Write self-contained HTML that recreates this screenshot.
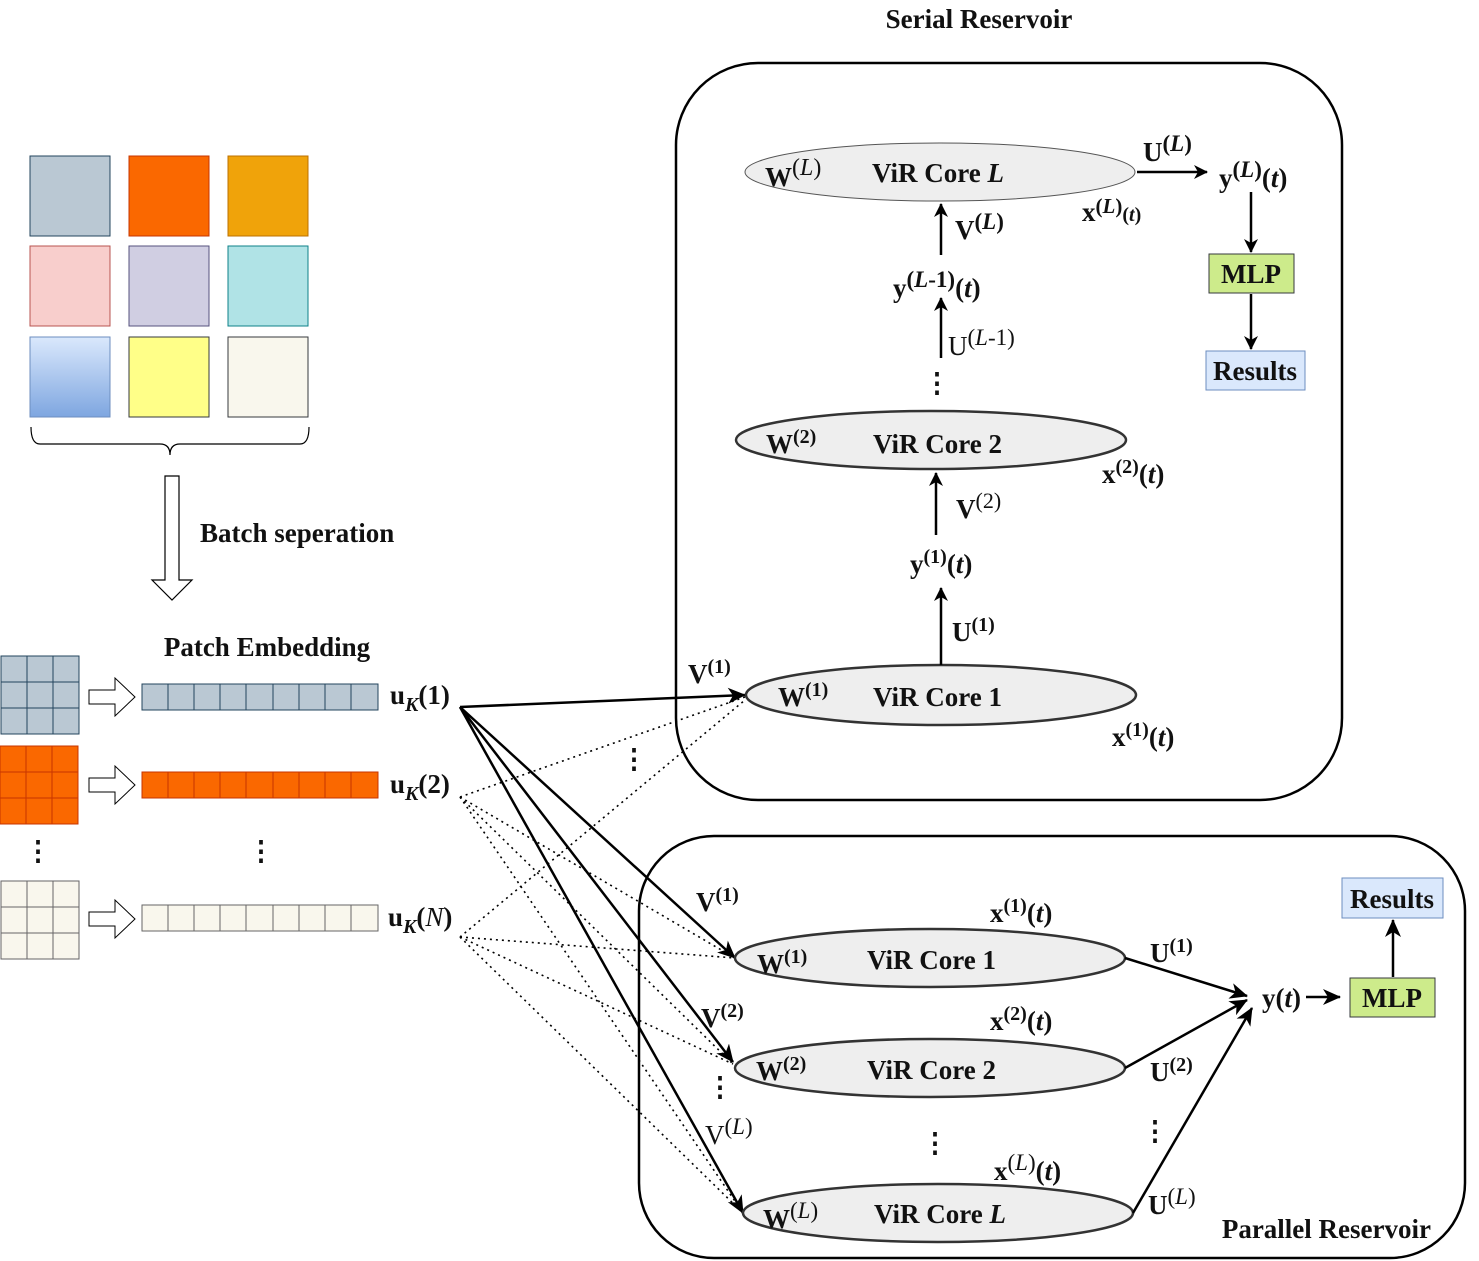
<!DOCTYPE html>
<html><head><meta charset="utf-8"><style>
html,body{margin:0;padding:0;background:#fff;}
svg{display:block;}
text{font-family:"Liberation Serif",serif;font-weight:bold;font-size:27px;fill:#111;}
.s{font-size:20px;}
.n{font-weight:normal;}
</style></head><body>
<svg width="1479" height="1261" viewBox="0 0 1479 1261" xmlns="http://www.w3.org/2000/svg">
<defs>
<marker id="a" markerWidth="14" markerHeight="14" refX="13" refY="7" orient="auto" markerUnits="userSpaceOnUse"><path d="M0,0 L14,7 L0,14 L4,7 Z" fill="#000"/></marker>
<marker id="b" markerWidth="18" markerHeight="16" refX="17" refY="8" orient="auto" markerUnits="userSpaceOnUse"><path d="M0,0 L18,8 L0,16 L5,8 Z" fill="#000"/></marker>
<linearGradient id="g" x1="0" y1="0" x2="0" y2="1"><stop offset="0" stop-color="#dae8fc"/><stop offset="1" stop-color="#7ea6e0"/></linearGradient>
</defs>

<rect x="30" y="156" width="80" height="80" fill="#bac8d3" stroke="#23445d"/>
<rect x="129" y="156" width="80" height="80" fill="#fa6800" stroke="#c73500"/>
<rect x="228" y="156" width="80" height="80" fill="#f0a30a" stroke="#bd7000"/>
<rect x="30" y="246" width="80" height="80" fill="#f8cecc" stroke="#b85450"/>
<rect x="129" y="246" width="80" height="80" fill="#d0cee2" stroke="#56517e"/>
<rect x="228" y="246" width="80" height="80" fill="#b0e3e6" stroke="#0e8088"/>
<rect x="30" y="337" width="80" height="80" fill="url(#g)" stroke="#6c8ebf"/>
<rect x="129" y="337" width="80" height="80" fill="#ffff88" stroke="#36393d"/>
<rect x="228" y="337" width="80" height="80" fill="#f9f7ed" stroke="#36393d"/>
<path d="M31,427 Q31,444 40,444 L160,444 Q170,444 170,455 Q170,444 180,444 L300,444 Q309,444 309,427" fill="none" stroke="#000" stroke-width="1.2"/>
<path d="M165,476 L179,476 L179,580 L192,580 L172,600 L152,580 L165,580 Z" fill="#fff" stroke="#000" stroke-width="1.2"/>
<text x="200" y="542">Batch seperation</text>
<text x="267" y="656" text-anchor="middle">Patch Embedding</text>

<g stroke="#23445d" stroke-width="1">
<rect x="1" y="656" width="78" height="78" fill="#bac8d3"/>
<path d="M27,656V734M53,656V734M1,682H79M1,708H79" fill="none"/>
</g>
<g stroke="#c73500" stroke-width="1">
<rect x="0" y="746" width="78" height="78" fill="#fa6800"/>
<path d="M26,746V824M52,746V824M0,772H78M0,798H78" fill="none"/>
</g>
<g stroke="#666" stroke-width="1">
<rect x="1" y="881" width="78" height="78" fill="#f9f7ed"/>
<path d="M27,881V959M53,881V959M1,907H79M1,933H79" fill="none"/>
</g>
<text x="38" y="860" text-anchor="middle">⋮</text>
<text x="261" y="860" text-anchor="middle">⋮</text>
<g fill="#fff" stroke="#000" stroke-width="1">
<path d="M89,690 L115,690 L115,678 L135,697 L115,716 L115,704 L89,704 Z"/>
<path d="M89,778 L115,778 L115,766 L135,785 L115,804 L115,792 L89,792 Z"/>
<path d="M89,912 L115,912 L115,900 L135,919 L115,938 L115,926 L89,926 Z"/>
</g>
<g stroke="#23445d"><rect x="142" y="684" width="236" height="26" fill="#bac8d3"/>
<path d="M168,684v26M194,684v26M220,684v26M246,684v26M273,684v26M299,684v26M325,684v26M351,684v26" fill="none"/></g>
<g stroke="#c73500"><rect x="142" y="772" width="236" height="26" fill="#fa6800"/>
<path d="M168,772v26M194,772v26M220,772v26M246,772v26M273,772v26M299,772v26M325,772v26M351,772v26" fill="none"/></g>
<g stroke="#666"><rect x="142" y="905" width="236" height="26" fill="#f9f7ed"/>
<path d="M168,905v26M194,905v26M220,905v26M246,905v26M273,905v26M299,905v26M325,905v26M351,905v26" fill="none"/></g>
<text x="390" y="704">u<tspan class="s" dy="7" font-style="italic">K</tspan><tspan dy="-7">(1)</tspan></text>
<text x="390" y="793">u<tspan class="s" dy="7" font-style="italic">K</tspan><tspan dy="-7">(2)</tspan></text>
<text x="388" y="926">u<tspan class="s" dy="7" font-style="italic">K</tspan><tspan dy="-7">(</tspan><tspan font-style="italic" class="n">N</tspan>)</text>

<rect x="676" y="63" width="666" height="737" rx="82" fill="none" stroke="#000" stroke-width="2.5"/>
<rect x="639" y="836" width="826" height="422" rx="75" fill="none" stroke="#000" stroke-width="2.5"/>
<text x="979" y="28" text-anchor="middle">Serial Reservoir</text>
<text x="1431" y="1238" text-anchor="end">Parallel Reservoir</text>

<g stroke="#000" stroke-width="1.6" stroke-dasharray="2,4" fill="none">
<path d="M460,797 L745,697"/><path d="M460,797 L735,958"/><path d="M460,797 L733,1064"/><path d="M460,797 L743,1213"/>
<path d="M460,937 L745,700"/><path d="M460,937 L735,958"/><path d="M460,937 L733,1064"/><path d="M460,937 L743,1213"/>
</g>
<g stroke="#000" stroke-width="2.5" fill="none" marker-end="url(#b)">
<path d="M460,707 L745,695"/><path d="M460,707 L735,958"/><path d="M460,707 L733,1062"/><path d="M460,707 L743,1213"/>
</g>
<text x="634" y="768" text-anchor="middle">⋮</text>
<text x="720" y="1096" text-anchor="middle">⋮</text>

<ellipse cx="940" cy="172" rx="195" ry="29" fill="#eeeeee" stroke="#555" stroke-width="1"/>
<ellipse cx="931" cy="440" rx="195" ry="29" fill="#eeeeee" stroke="#333" stroke-width="2.5"/>
<ellipse cx="941" cy="695" rx="195" ry="30" fill="#eeeeee" stroke="#333" stroke-width="2.5"/>
<text x="765" y="186">W<tspan class="n" dy="-11" font-size="24">(<tspan font-style="italic">L</tspan>)</tspan></text>
<text x="872" y="182">ViR Core <tspan font-style="italic">L</tspan></text>
<text x="766" y="453">W<tspan class="s" dy="-10">(2)</tspan></text>
<text x="873" y="453">ViR Core 2</text>
<text x="778" y="706">W<tspan class="s" dy="-10">(1)</tspan></text>
<text x="873" y="706">ViR Core 1</text>

<g stroke="#000" stroke-width="2.5" fill="none" marker-end="url(#a)">
<path d="M941,665 L941,588"/><path d="M936,535 L936,473"/>
<path d="M941,358 L941,298"/><path d="M941,255 L941,204"/>
<path d="M1137,172 L1207,172"/>
<path d="M1251,192 L1251,252"/><path d="M1251,294 L1251,349"/>
</g>
<text x="937" y="392" text-anchor="middle">⋮</text>
<text x="952" y="641">U<tspan class="s" dy="-10">(1)</tspan></text>
<text x="910" y="573">y<tspan class="s" dy="-10">(1)</tspan><tspan dy="10">(</tspan><tspan font-style="italic">t</tspan>)</text>
<text x="956" y="518">V<tspan class="n" dy="-10" font-size="22">(2)</tspan></text>
<text x="1102" y="483">x<tspan class="s" dy="-10">(2)</tspan><tspan dy="10">(</tspan><tspan font-style="italic">t</tspan>)</text>
<text x="1112" y="746">x<tspan class="s" dy="-10">(1)</tspan><tspan dy="10">(</tspan><tspan font-style="italic">t</tspan>)</text>
<text x="688" y="683">V<tspan class="s" dy="-10">(1)</tspan></text>
<text x="948" y="355" class="n">U<tspan dy="-10" font-size="23">(<tspan font-style="italic">L</tspan>-1)</tspan></text>
<text x="893" y="297">y<tspan dy="-10" font-size="23">(<tspan font-style="italic">L</tspan>-1)</tspan><tspan dy="10">(</tspan><tspan font-style="italic">t</tspan>)</text>
<text x="955" y="239">V<tspan dy="-10" font-size="23">(<tspan font-style="italic">L</tspan>)</tspan></text>
<text x="1082" y="221" font-size="22">x<tspan dy="-8" font-size="21">(<tspan font-style="italic">L</tspan>)</tspan><tspan dy="8" font-size="20">(<tspan font-style="italic">t</tspan>)</tspan></text>
<text x="1143" y="161">U<tspan dy="-10" font-size="23">(<tspan font-style="italic">L</tspan>)</tspan></text>
<text x="1219" y="187">y<tspan dy="-10" font-size="23">(<tspan font-style="italic">L</tspan>)</tspan><tspan dy="10">(</tspan><tspan font-style="italic">t</tspan>)</text>
<rect x="1209" y="254" width="85" height="39" fill="#cdeb8b" stroke="#36393d"/>
<text x="1251" y="283" text-anchor="middle">MLP</text>
<rect x="1206" y="351" width="99" height="39" fill="#dae8fc" stroke="#6c8ebf"/>
<text x="1255" y="380" text-anchor="middle">Results</text>

<ellipse cx="930" cy="958" rx="195" ry="29" fill="#eeeeee" stroke="#333" stroke-width="2.5"/>
<ellipse cx="930" cy="1068" rx="195" ry="29" fill="#eeeeee" stroke="#333" stroke-width="2.5"/>
<ellipse cx="938" cy="1213" rx="195" ry="29" fill="#eeeeee" stroke="#333" stroke-width="2.5"/>
<text x="757" y="973">W<tspan class="s" dy="-10">(1)</tspan></text>
<text x="867" y="969">ViR Core 1</text>
<text x="756" y="1080">W<tspan class="s" dy="-10">(2)</tspan></text>
<text x="867" y="1079">ViR Core 2</text>
<text x="763" y="1228">W<tspan class="n" dy="-10" font-size="23">(<tspan font-style="italic">L</tspan>)</tspan></text>
<text x="874" y="1223">ViR Core <tspan font-style="italic">L</tspan></text>
<text x="696" y="911">V<tspan class="s" dy="-10">(1)</tspan></text>
<text x="701" y="1027">V<tspan class="s" dy="-10">(2)</tspan></text>
<text x="705" y="1144" class="n">V<tspan dy="-10" font-size="23">(<tspan font-style="italic">L</tspan>)</tspan></text>
<text x="990" y="922">x<tspan class="s" dy="-10">(1)</tspan><tspan dy="10">(</tspan><tspan font-style="italic">t</tspan>)</text>
<text x="990" y="1030">x<tspan class="s" dy="-10">(2)</tspan><tspan dy="10">(</tspan><tspan font-style="italic">t</tspan>)</text>
<text x="994" y="1180">x<tspan dy="-10" font-size="23" class="n">(<tspan font-style="italic">L</tspan>)</tspan><tspan dy="10">(</tspan><tspan font-style="italic">t</tspan>)</text>
<text x="935" y="1152" text-anchor="middle">⋮</text>
<text x="1155" y="1140" text-anchor="middle">⋮</text>
<g stroke="#000" stroke-width="2.5" fill="none" marker-end="url(#b)">
<path d="M1125,958 L1247,996"/><path d="M1125,1068 L1247,1000"/><path d="M1133,1213 L1252,1008"/>
<path d="M1306,997 L1340,997"/><path d="M1393,977 L1393,920"/>
</g>
<text x="1150" y="962">U<tspan class="s" dy="-10">(1)</tspan></text>
<text x="1150" y="1081">U<tspan class="s" dy="-10">(2)</tspan></text>
<text x="1148" y="1214">U<tspan dy="-10" font-size="23" class="n">(<tspan font-style="italic">L</tspan>)</tspan></text>
<text x="1262" y="1007">y(<tspan font-style="italic">t</tspan>)</text>
<rect x="1350" y="978" width="85" height="39" fill="#cdeb8b" stroke="#36393d"/>
<text x="1392" y="1007" text-anchor="middle">MLP</text>
<rect x="1342" y="878" width="101" height="40" fill="#dae8fc" stroke="#6c8ebf"/>
<text x="1392" y="908" text-anchor="middle">Results</text>
</svg>
</body></html>
